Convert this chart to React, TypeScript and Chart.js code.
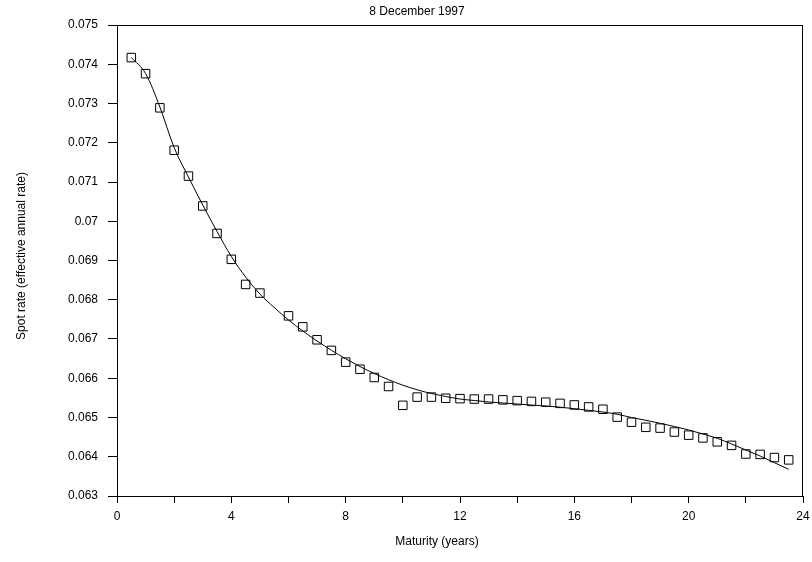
import React, { useEffect, useRef } from 'react';
import { Chart, registerables } from 'chart.js';

Chart.register(...registerables);

const TITLE = '8 December 1997';
const X_TITLE = 'Maturity (years)';
const Y_TITLE = 'Spot rate (effective annual rate)';

const X_TICK_LABELS = ['0', '4', '8', '12', '16', '20', '24'];
const Y_TICK_LABELS = [
  '0.063', '0.064', '0.065', '0.066', '0.067', '0.068', '0.069',
  '0.07', '0.071', '0.072', '0.073', '0.074', '0.075',
];

// Observed spot rates (squares)
const MATURITY = [
  0.5, 1, 1.5, 2, 2.5, 3, 3.5, 4, 4.5, 5,
  6, 6.5, 7, 7.5, 8, 8.5, 9, 9.5, 10, 10.5,
  11, 11.5, 12, 12.5, 13, 13.5, 14, 14.5, 15, 15.5,
  16, 16.5, 17, 17.5, 18, 18.5, 19, 19.5, 20, 20.5,
  21, 21.5, 22, 22.5, 23, 23.5,
];
const SPOT_RATE = [
  0.07417, 0.07376, 0.07289, 0.07181, 0.07115, 0.07039, 0.06969, 0.06903, 0.06839, 0.06817,
  0.06759, 0.06731, 0.06698, 0.06671, 0.06641, 0.06623, 0.06602, 0.06579, 0.06531, 0.06552,
  0.06552, 0.06549, 0.06548, 0.06547, 0.06547, 0.06545, 0.06543, 0.06541, 0.06539, 0.06536,
  0.06532, 0.06527, 0.06521, 0.06501, 0.06488, 0.06475, 0.06473, 0.06463, 0.06455, 0.06448,
  0.06438, 0.06429, 0.06407, 0.06406, 0.06398, 0.06392,
];

// Fitted curve
const CURVE_MATURITY = [
  0.5, 1, 1.5, 2, 2.5, 3, 3.5, 4, 4.5, 5, 5.5, 6, 6.5, 7, 7.5, 8,
  8.5, 9, 9.5, 10, 10.5, 11, 11.5, 12, 12.5, 13, 13.5, 14, 14.5, 15, 15.5, 16,
  16.5, 17, 17.5, 18, 18.5, 19, 19.5, 20, 20.5, 21, 21.5, 22, 22.5, 23, 23.5,
];
const CURVE_RATE = [
  0.074172, 0.073764, 0.072911, 0.071875, 0.071127, 0.070414, 0.069739, 0.069102,
  0.06858, 0.068146, 0.067803, 0.067484, 0.067204, 0.066949, 0.066712, 0.066496,
  0.066299, 0.066121, 0.065963, 0.065823, 0.065706, 0.065611, 0.065535, 0.065471,
  0.065433, 0.065395, 0.065369, 0.065344, 0.065318, 0.065293, 0.065263, 0.065224,
  0.065183, 0.06514, 0.065082, 0.065, 0.064929, 0.064852, 0.064771, 0.064682,
  0.06458, 0.06447, 0.064325, 0.064172, 0.064019, 0.063848, 0.06368,
];

const FONT = "'Liberation Sans', Arial, Helvetica, sans-serif";

// frame (top/right edges) and the three titles
const decorPlugin = {
  id: 'decor',
  afterDatasetsDraw(chart: any) {
    const { ctx, chartArea } = chart;
    const l = Math.round(chartArea.left);
    const r = Math.round(chartArea.right);
    const t = Math.round(chartArea.top);
    const b = Math.round(chartArea.bottom);
    ctx.save();
    ctx.strokeStyle = '#000';
    ctx.lineWidth = 1;
    ctx.beginPath();
    ctx.moveTo(l, t + 0.5);
    ctx.lineTo(r, t + 0.5);
    ctx.moveTo(r - 0.5, t);
    ctx.lineTo(r - 0.5, b);
    ctx.stroke();

    ctx.fillStyle = '#000';
    ctx.font = `12px ${FONT}`;
    ctx.textAlign = 'center';
    ctx.textBaseline = 'middle';
    ctx.fillText(TITLE, 417, 12);
    ctx.fillText(X_TITLE, 437, 542);
    ctx.translate(22, 256);
    ctx.rotate(-Math.PI / 2);
    ctx.fillText(Y_TITLE, 0, 0);
    ctx.restore();
  },
};

export default function App() {
  const ref = useRef<HTMLCanvasElement | null>(null);

  useEffect(() => {
    if (!ref.current) return;
    const chart = new Chart(ref.current, {
      type: 'scatter',
      data: {
        datasets: [
          {
            label: 'Fitted curve',
            data: CURVE_MATURITY.map((x, i) => ({ x, y: CURVE_RATE[i] })),
            showLine: true,
            borderColor: '#000',
            borderWidth: 1,
            pointRadius: 0,
            pointHoverRadius: 0,
            cubicInterpolationMode: 'monotone',
            fill: false,
          } as any,
          {
            label: 'Observed',
            data: MATURITY.map((x, i) => ({ x, y: SPOT_RATE[i] })),
            showLine: false,
            pointStyle: 'rect',
            pointRadius: 6,
            pointBorderWidth: 1,
            borderColor: '#000',
            pointBorderColor: '#000',
            backgroundColor: 'rgba(0,0,0,0)',
            pointBackgroundColor: 'rgba(0,0,0,0)',
          } as any,
        ],
      },
      options: {
        animation: false,
        responsive: false,
        events: [],
        layout: { padding: { left: 0, right: 9, top: 25, bottom: 0 } },
        plugins: {
          legend: { display: false },
          tooltip: { enabled: false },
          title: { display: false },
        },
        scales: {
          x: {
            type: 'linear',
            min: 0,
            max: 24,
            afterFit: (s: any) => {
              s.height = 66;
              s.paddingLeft = 0;
              s.paddingRight = 0;
            },
            ticks: {
              stepSize: 2,
              autoSkip: false,
              maxRotation: 0,
              padding: 6,
              color: '#000',
              font: { family: FONT, size: 12 },
              callback: (v: any) => X_TICK_LABELS.find((l) => Math.abs(Number(l) - v) < 1e-9) ?? '',
            },
            grid: {
              drawOnChartArea: false,
              drawTicks: true,
              tickLength: 7,
              color: '#000',
            },
            border: { display: true, color: '#000', width: 1 },
            title: { display: false },
          },
          y: {
            type: 'linear',
            min: 0.063,
            max: 0.075,
            afterFit: (s: any) => {
              s.width = 117;
              s.paddingTop = 0;
              s.paddingBottom = 0;
            },
            ticks: {
              stepSize: 0.001,
              padding: 10,
              color: '#000',
              font: { family: FONT, size: 12 },
              callback: (v: any) => Y_TICK_LABELS.find((l) => Math.abs(Number(l) - v) < 1e-9) ?? '',
            },
            grid: {
              drawOnChartArea: false,
              drawTicks: true,
              tickLength: 9,
              color: '#000',
            },
            border: { display: true, color: '#000', width: 1 },
            title: { display: false },
          },
        },
      } as any,
      plugins: [decorPlugin],
    });
    return () => chart.destroy();
  }, []);

  return (
    <div style={{ position: 'absolute', left: 0, top: 0, width: 812, height: 562, background: '#fff' }}>
      <canvas ref={ref} width={812} height={562} style={{ display: 'block' }} />
    </div>
  );
}
